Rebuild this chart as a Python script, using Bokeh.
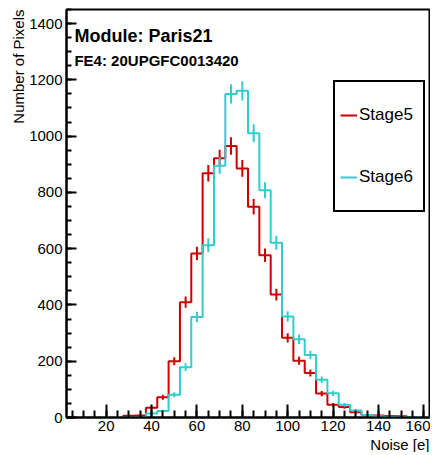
import math
from bokeh.plotting import figure
from bokeh.models import (SingleIntervalTicker, Label, Legend, LegendItem, Range1d, Title)
from bokeh.embed import file_html
from bokeh.resources import INLINE

# ---- data ----
bin_centers = [5, 10, 15, 20, 25, 30, 35, 40, 45, 50, 55, 60, 65, 70, 75, 80,
               85, 90, 95, 100, 105, 110, 115, 120, 125, 130, 135, 140, 145, 150, 155, 160]
bin_width = 5
stage5 = [0, 0, 0, 0, 0, 6, 7, 35, 72, 200, 410, 583, 868, 921, 965, 885,
          749, 577, 437, 283, 202, 158, 85, 45, 37, 19, 9, 7, 5, 4, 1, 0]
stage6 = [0, 0, 0, 0, 0, 0, 0, 14, 23, 81, 179, 357, 612, 895, 1150, 1161,
          1010, 808, 621, 359, 278, 222, 134, 86, 45, 25, 9, 4, 3, 1, 1, 1]
series_names = ["Stage5", "Stage6"]
series_colors = ["#cc0000", "#33cccc"]
x_tick_interval = 20
y_tick_interval = 200
y_max = 1450
module_text = "Module: Paris21"
fe_text = "FE4: 20UPGFC0013420"
x_title = "Noise [e]"
y_title = "Number of Pixels"

FONT = "Liberation Sans"

edges = [c - bin_width / 2 for c in bin_centers] + [bin_centers[-1] + bin_width / 2]

p = figure(width=430, height=452, output_backend="svg", toolbar_location=None,
           x_range=Range1d(edges[0], edges[-1]), y_range=Range1d(0, y_max),
           min_border_left=66, min_border_right=1, min_border_top=9, min_border_bottom=35)
p.xgrid.visible = False
p.ygrid.visible = False
p.outline_line_color = "black"
p.outline_line_width = 2
p.outline_line_alpha = 1.0
p.background_fill_color = "white"
p.border_fill_color = "white"

# axes
p.xaxis.ticker = SingleIntervalTicker(interval=x_tick_interval, num_minor_ticks=4)
p.yaxis.ticker = SingleIntervalTicker(interval=y_tick_interval, num_minor_ticks=4)
for ax in (p.xaxis, p.yaxis):
    ax.axis_line_width = 2
    ax.axis_line_color = "black"
    ax.major_tick_out = 0
    ax.minor_tick_out = 0
    ax.major_tick_line_color = "black"
    ax.minor_tick_line_color = "black"
    ax.major_tick_line_width = 2
    ax.minor_tick_line_width = 2
    ax.major_label_text_font = FONT
    ax.major_label_text_font_size = "15px"
    ax.major_label_text_color = "black"
p.xaxis.major_tick_in = 13
p.xaxis.minor_tick_in = 7
p.yaxis.major_tick_in = 10
p.yaxis.minor_tick_in = 5
p.xaxis.major_label_standoff = 3
p.yaxis.major_label_standoff = 4

items = []
for name, vals, col in zip(series_names, [stage5, stage6], series_colors):
    ys = vals + [vals[-1]]
    r = p.step(edges, ys, mode="after", line_color=col, line_width=2)
    lo = [v - math.sqrt(v) for v in vals]
    hi = [v + math.sqrt(v) for v in vals]
    p.segment(x0=bin_centers, y0=lo, x1=bin_centers, y1=hi, line_color=col, line_width=2)
    d = p.scatter(x=[], y=[], size=3, color="black")
    items.append(LegendItem(label=name, renderers=[r, d]))

legend = Legend(items=items, location=(267, 205), padding=5, spacing=6,
                glyph_width=17, glyph_height=56, label_height=56, label_width=59,
                label_standoff=2, label_text_font=FONT, label_text_font_size="17px",
                label_text_color="black",
                border_line_color="black", border_line_width=2, border_line_alpha=1.0,
                background_fill_color="white", background_fill_alpha=1.0, margin=0)
p.add_layout(legend)

p.add_layout(Label(x=6, y=1357, text=module_text, text_font=FONT, text_font_style="bold",
                   text_font_size="18px", text_baseline="alphabetic", text_color="black"))
p.add_layout(Label(x=6, y=1269, text=fe_text, text_font=FONT, text_font_style="bold",
                   text_font_size="15px", text_baseline="alphabetic", text_color="black"))

p.add_layout(Title(text=x_title, align="right", text_font=FONT, text_font_size="15px",
                   text_font_style="normal", text_color="black", standoff=0, offset=0), "below")
p.add_layout(Title(text=y_title, align="right", text_font=FONT, text_font_size="15px",
                   text_font_style="normal", text_color="black", standoff=0, offset=0), "left")

open("out.html", "w").write(file_html(p, INLINE))
